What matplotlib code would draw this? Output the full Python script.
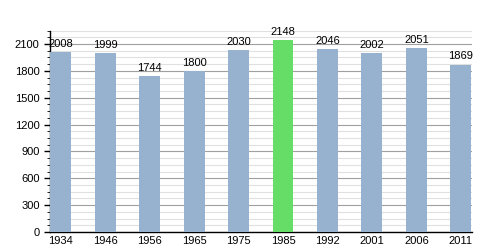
import matplotlib.pyplot as plt
from matplotlib.ticker import MultipleLocator

plt.rcParams['font.family'] = ['Liberation Sans', 'DejaVu Sans']

years = ['1934', '1946', '1956', '1965', '1975', '1985', '1992', '2001', '2006', '2011']
population = [2008, 1999, 1744, 1800, 2030, 2148, 2046, 2002, 2051, 1869]
highlight = '1985'

colors = ['#66dd66' if y == highlight else '#97b2cf' for y in years]

fig = plt.figure(figsize=(5, 2.5), dpi=100)
ax = fig.add_axes([0.1, 0.072, 0.843, 0.806])

x = range(len(years))
bars = ax.bar(x, population, width=0.47, color=colors, zorder=3)
for rect, v in zip(bars, population):
    ax.text(rect.get_x() + rect.get_width() / 2, v + 35, str(v),
            ha='center', va='bottom', fontsize=8, zorder=4)

ax.set_xlim(-0.24, 9.24)
ax.set_ylim(0, 2250)
ax.set_xticks(list(x))
ax.set_xticklabels(years, fontsize=8)
ax.yaxis.set_major_locator(MultipleLocator(300))
ax.yaxis.set_minor_locator(MultipleLocator(75))
ax.tick_params(axis='y', labelsize=8, length=4, width=1)
ax.tick_params(axis='y', which='minor', length=2)
ax.tick_params(axis='x', length=0, pad=3)

ax.grid(axis='y', which='major', color='#a0a0a0', linewidth=0.8, zorder=0)
ax.grid(axis='y', which='minor', color='#e0e0e0', linewidth=0.8, zorder=0)

for s in ['top', 'right']:
    ax.spines[s].set_visible(False)
ax.spines['left'].set_linewidth(1)
ax.spines['bottom'].set_linewidth(1)

fig.savefig('out.png', dpi=100)
